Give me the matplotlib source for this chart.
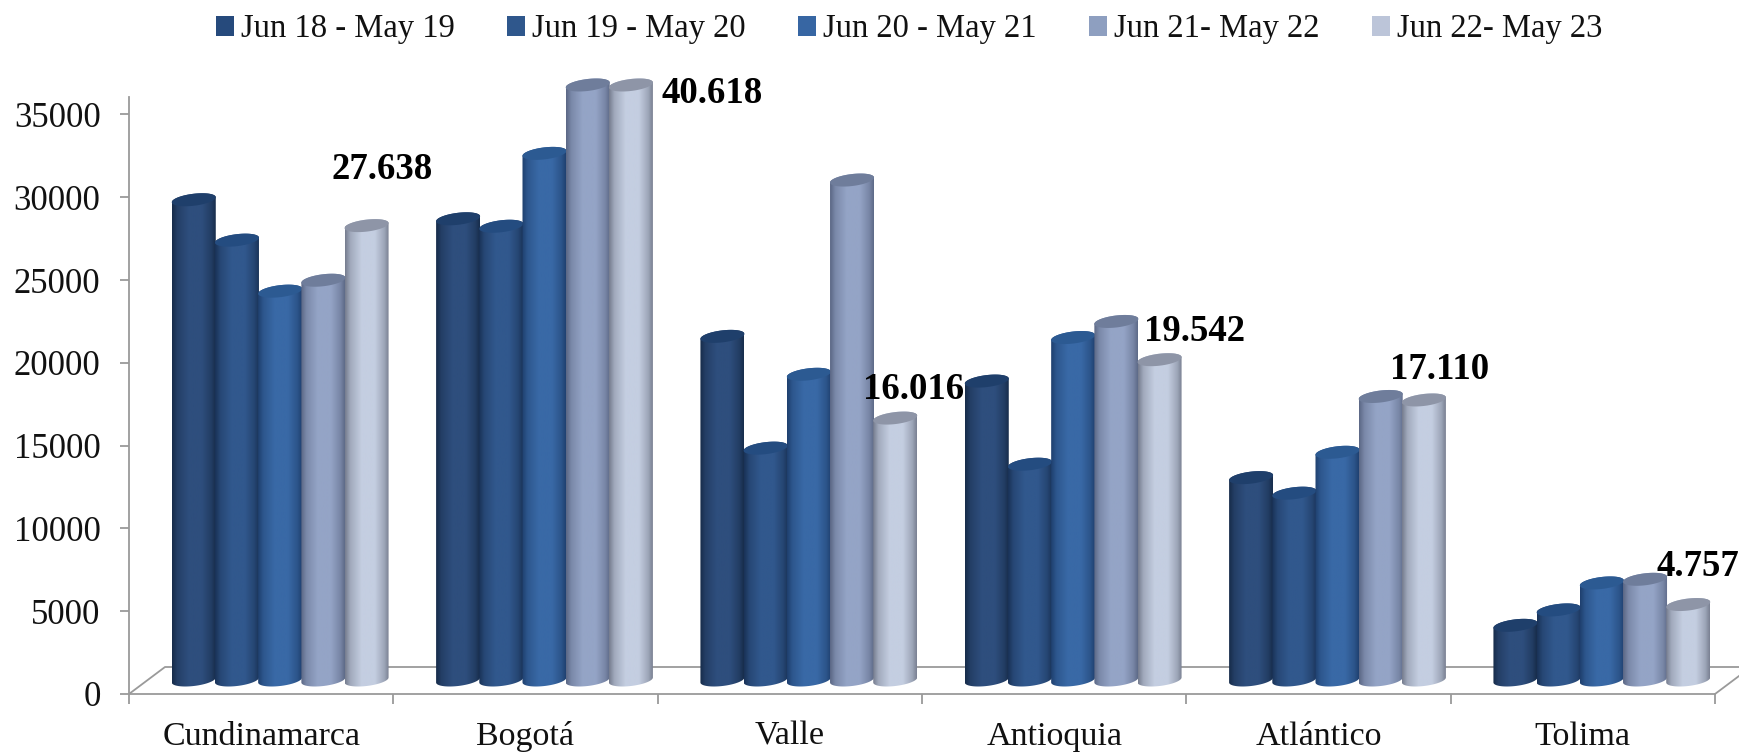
import numpy as np
import matplotlib
matplotlib.use("Agg")
import matplotlib.pyplot as plt
from matplotlib.colors import LinearSegmentedColormap
from matplotlib.patches import PathPatch, Patch
from matplotlib.path import Path

plt.rcParams['font.family'] = ['Liberation Serif', 'DejaVu Serif']

# ---- data -------------------------------------------------------------
departments = ["Cundinamarca", "Bogotá", "Valle", "Antioquia", "Atlántico", "Tolima"]
periods = ["Jun 18 - May 19", "Jun 19 - May 20", "Jun 20 - May 21", "Jun 21- May 22", "Jun 22- May 23"]
jun18_may19 = [29200, 28050, 20950, 18250, 12420, 3500]
jun19_may20 = [26760, 27600, 14200, 13230, 11480, 4430]
jun20_may21 = [23680, 32000, 18660, 20880, 13950, 6060]
jun21_may22 = [24340, 36130, 30390, 21850, 17320, 6280]
jun22_may23 = [27638, 36130, 16016, 19542, 17110, 4757]
series = [jun18_may19, jun19_may20, jun20_may21, jun21_may22, jun22_may23]
value_labels = ["27.638", "40.618", "16.016", "19.542", "17.110", "4.757"]
yticks = [0, 5000, 10000, 15000, 20000, 25000, 30000, 35000]

# ---- style ------------------------------------------------------------
label_offsets_px = [(16, 56), (81, -9), (18, 29), (35, 28), (16, 30), (10, 38)]
legend_colors = ["#264A7C", "#2F578C", "#3766A3", "#8E9FC0", "#BCC5D9"]
edge_colors = ["#172C4A", "#1A3358", "#1F406F", "#5C6886", "#777E90"]
mid_colors = ["#2E4E7D", "#31588D", "#3969A6", "#94A4C6", "#C4CEE1"]
top_colors = ["#1F3F6B", "#244C80", "#2C5A92", "#6F7D9B", "#8E95A7"]

W, H = 1740, 752
AX_L, AX_R, AX_B, AX_T = 129, 1715, 694, 97
PX_PER_CAT = (AX_R - AX_L) / 6
PX_PER_UNIT = 82.8 / 5000
GREY = "#9A9A9A"

fig = plt.figure(figsize=(W / 100, H / 100), dpi=100, facecolor="white")
ax = fig.add_axes([AX_L / W, 1 - AX_B / H, (AX_R - AX_L) / W, (AX_B - AX_T) / H])
ax.set_xlim(0, 6)
ax.set_ylim(0, (AX_B - AX_T) / PX_PER_UNIT)
ax.autoscale(False)
ax.patch.set_visible(False)


def dx(px):
    return px / PX_PER_CAT


def dy(px):
    return px / PX_PER_UNIT


# axes furniture
for s in ("top", "right"):
    ax.spines[s].set_visible(False)
for s in ("left", "bottom"):
    ax.spines[s].set_color(GREY)
    ax.spines[s].set_linewidth(1.3)
ax.set_yticks(yticks)
ax.set_xticks(np.arange(7))
ax.set_xticklabels([])
ax.set_xticks(np.arange(6) + 0.5, minor=True)
ax.set_xticklabels(departments, minor=True, va="baseline")
ax.tick_params(axis="y", length=6.5, width=1.3, color=GREY, labelsize=25, pad=14, labelcolor="#111111")
ax.tick_params(axis="x", which="major", length=7, width=1.3, color=GREY)
ax.tick_params(axis="x", which="minor", length=0, labelsize=24.5, pad=36.5, labelcolor="#111111")

# floor of the 3-D box
ax.plot([0, dx(36), 6 + dx(36)], [0, dy(27), dy(27)], color=GREY, lw=1.3, clip_on=False, zorder=1)
ax.plot([6, 6 + dx(36)], [0, dy(27)], color=GREY, lw=1.3, clip_on=False, zorder=1)

# cylinders
BAR_PX = 43.2
HALF_W = 22
B_PX = 6.0
TILT_PX = 2.5
DEPTH_X_PX = 19
BASE_UNITS = dy(14)
TOP_UNITS = dy(10.7)
t_front = np.linspace(np.pi, 2 * np.pi, 40)
t_back = np.linspace(0, np.pi, 40)
t_full = np.linspace(0, 2 * np.pi, 80)


def arc(cx, cy, t):
    return np.column_stack([cx + dx(HALF_W) * np.cos(t),
                            cy + dy(B_PX) * np.sin(t) + dy(TILT_PX) * np.cos(t)])


grad = np.interp(np.linspace(0, 1, 64), [0, 0.12, 0.38, 0.68, 0.9, 1], [0, 0.55, 1, 1, 0.5, 0.05])[None, :]
for j, vals in enumerate(series):
    cmap = LinearSegmentedColormap.from_list(f"c{j}", [edge_colors[j], mid_colors[j]], N=256)
    for i, v in enumerate(vals):
        cx = i + 0.5 + dx(DEPTH_X_PX + (j - 2) * BAR_PX)
        base = BASE_UNITS
        top = v + TOP_UNITS
        body = np.vstack([arc(cx, base, t_front), arc(cx, top, t_back)])
        clip = PathPatch(Path(np.vstack([body, body[0]]), closed=True), transform=ax.transData,
                         fc="none", ec="none")
        ax.add_patch(clip)
        clip.set_clip_on(False)
        im = ax.imshow(grad, cmap=cmap, vmin=0, vmax=1, aspect="auto", interpolation="bilinear",
                       extent=[cx - dx(HALF_W), cx + dx(HALF_W), base - dy(10), top + dy(10)],
                       zorder=3 + j * 0.1)
        im.set_clip_box(fig.bbox)
        im.set_clip_path(clip)
        cap = PathPatch(Path(arc(cx, top, t_full), closed=True), fc=top_colors[j], ec="none",
                        clip_on=False, zorder=3 + j * 0.1 + 0.01)
        ax.add_patch(cap)

# value labels on the last series
for i, (lab, off) in enumerate(zip(value_labels, label_offsets_px)):
    cx = i + 0.5 + dx(DEPTH_X_PX + 2 * BAR_PX)
    ax.annotate(lab, xy=(cx, series[-1][i] + TOP_UNITS), xytext=off, textcoords="offset pixels",
                ha="center", va="center", fontsize=26.5, fontweight="bold",
                color="black", annotation_clip=False, zorder=6)

# legend
handles = [Patch(fc=c, ec="none", label=p) for c, p in zip(legend_colors, periods)]
fig.legend(handles=handles, loc="upper left", bbox_to_anchor=(193 / W, 1 + 9 / H), ncol=5, frameon=False,
           fontsize=23.5, handlelength=0.55, handleheight=0.55, handletextpad=0.22,
           columnspacing=1.6, borderpad=0.2, labelcolor="#111111")

fig.savefig("out.png", dpi=100, facecolor="white")
